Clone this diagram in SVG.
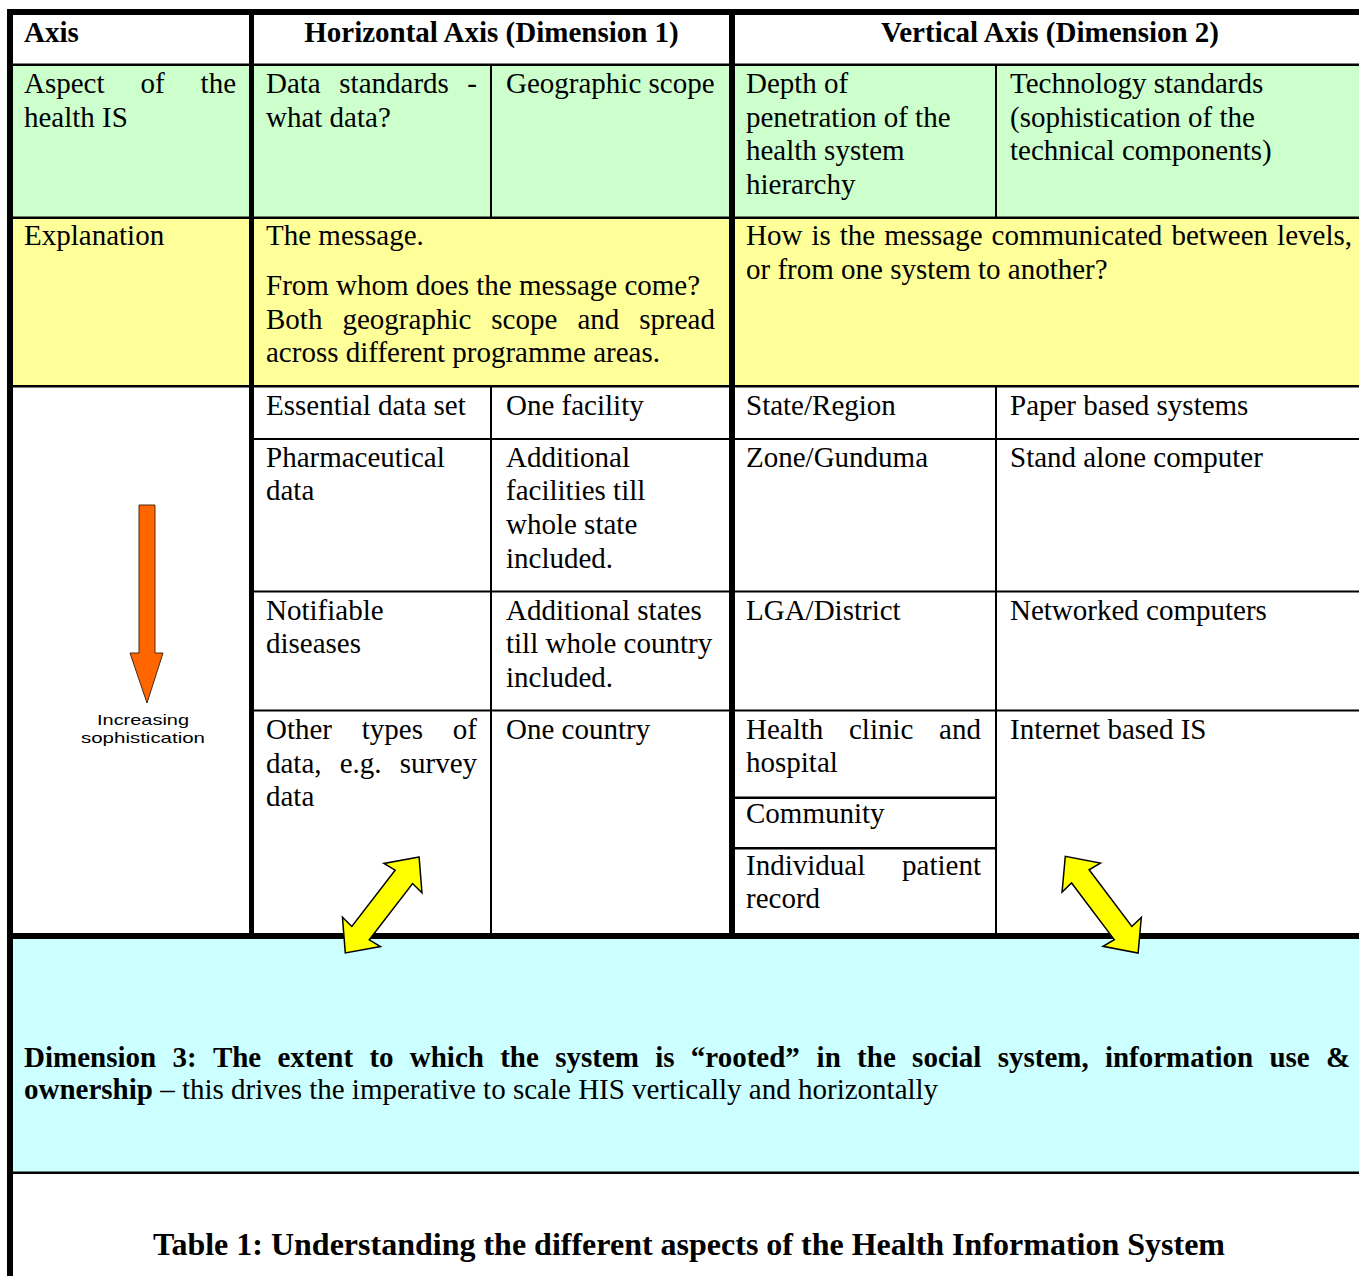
<svg xmlns="http://www.w3.org/2000/svg" width="1359" height="1276" viewBox="0 0 1359 1276">
<style>
  text { font-family: "Liberation Serif", "Times New Roman", serif; font-size: 29px; fill: #000; }
  .b { font-weight: bold; }
  .lbl { font-family: "Liberation Sans", Arial, sans-serif; font-size: 15px; }
  .rule { fill: #000; }
  .dbl { fill: #FFFF00; stroke: #000; stroke-width: 1.5; stroke-linejoin: miter; }
  .down { fill: #FF6600; stroke: #4a2a10; stroke-width: 1; }
</style>
<defs>
  <!-- two-headed block arrow, centred on the origin, pointing along x -->
  <polygon id="dblArrow" points="60.5,0 34,-24 35.5,-11 -35.5,-11 -34,-24 -60.5,0 -34,24 -35.5,11 35.5,11 34,24"/>
</defs>

<rect width="1359" height="1276" fill="#fff"/>

<!-- shaded row bands -->
<g id="bands">
  <rect x="13" y="66" width="1346" height="151" fill="#CCFFCC"/>
  <rect x="13" y="218" width="1346" height="168" fill="#FFFF99"/>
  <rect x="13" y="938" width="1346" height="235" fill="#CCFFFF"/>
</g>

<!-- table rules -->
<g id="grid" class="rule">
  <rect x="7" y="9" width="1352" height="6"/>
  <rect x="7" y="9" width="6" height="1267"/>
  <rect x="249" y="15" width="5" height="919"/>
  <rect x="729" y="15" width="6" height="919"/>
  <rect x="13" y="63.5" width="1346" height="2.5"/>
  <rect x="13" y="216.5" width="1346" height="2.5"/>
  <rect x="13" y="385" width="1346" height="2.5"/>
  <rect x="254" y="438" width="1105" height="2"/>
  <rect x="254" y="590.5" width="1105" height="2"/>
  <rect x="254" y="709.5" width="1105" height="2"/>
  <rect x="735" y="796.5" width="260" height="2.5"/>
  <rect x="735" y="847" width="260" height="2.5"/>
  <rect x="490" y="66" width="2" height="151"/>
  <rect x="490" y="387" width="2" height="547"/>
  <rect x="995" y="66" width="2" height="151"/>
  <rect x="995" y="387" width="2" height="547"/>
  <rect x="7" y="933" width="1352" height="6"/>
  <rect x="13" y="1171.5" width="1346" height="2.5"/>
</g>

<!-- header row -->
<g id="header">
  <text class="b" x="24" y="42">Axis</text>
  <text class="b" x="491.5" y="42" text-anchor="middle">Horizontal Axis (Dimension 1)</text>
  <text class="b" x="1050" y="42" text-anchor="middle">Vertical Axis (Dimension 2)</text>
</g>

<!-- aspect row -->
<g id="aspect">
  <text y="93"><tspan x="24">Aspect</tspan><tspan x="140.5">of</tspan><tspan x="200.6">the</tspan></text>
  <text x="24" y="127">health IS</text>
  <text y="93"><tspan x="266">Data</tspan><tspan x="339.3">standards</tspan><tspan x="467.3">-</tspan></text>
  <text x="266" y="127">what data?</text>
  <text x="506" y="93">Geographic scope</text>
  <text x="746" y="93">Depth of</text>
  <text x="746" y="126.5">penetration of the</text>
  <text x="746" y="160">health system</text>
  <text x="746" y="193.5">hierarchy</text>
  <text x="1010" y="93">Technology standards</text>
  <text x="1010" y="126.5">(sophistication of the</text>
  <text x="1010" y="160">technical components)</text>
</g>

<!-- explanation row -->
<g id="explanation">
  <text x="24" y="245">Explanation</text>
  <text x="266" y="245">The message.</text>
  <text x="266" y="295">From whom does the message come?</text>
  <text y="329"><tspan x="266">Both</tspan><tspan x="342.5">geographic</tspan><tspan x="491.3">scope</tspan><tspan x="577.4">and</tspan><tspan x="639.3">spread</tspan></text>
  <text x="266" y="362">across different programme areas.</text>
  <text y="245"><tspan x="746">How</tspan><tspan x="811.5">is</tspan><tspan x="839.8">the</tspan><tspan x="884.3">message</tspan><tspan x="991.6">communicated</tspan><tspan x="1171.5">between</tspan><tspan x="1277.1">levels,</tspan></text>
  <text x="746" y="279">or from one system to another?</text>
</g>

<!-- levels, rows 1 to 4 -->
<g id="row1">
  <text x="266" y="415">Essential data set</text>
  <text x="506" y="415">One facility</text>
  <text x="746" y="415">State/Region</text>
  <text x="1010" y="415">Paper based systems</text>
</g>
<g id="row2">
  <text x="266" y="467">Pharmaceutical</text>
  <text x="266" y="500">data</text>
  <text x="506" y="467">Additional</text>
  <text x="506" y="500">facilities till</text>
  <text x="506" y="534">whole state</text>
  <text x="506" y="568">included.</text>
  <text x="746" y="467">Zone/Gunduma</text>
  <text x="1010" y="467">Stand alone computer</text>
</g>
<g id="row3">
  <text x="266" y="620">Notifiable</text>
  <text x="266" y="653">diseases</text>
  <text x="506" y="620">Additional states</text>
  <text x="506" y="653">till whole country</text>
  <text x="506" y="687">included.</text>
  <text x="746" y="620">LGA/District</text>
  <text x="1010" y="620">Networked computers</text>
</g>
<g id="row4">
  <text y="739"><tspan x="266">Other</tspan><tspan x="361.8">types</tspan><tspan x="452.8">of</tspan></text>
  <text y="773"><tspan x="266">data,</tspan><tspan x="339.7">e.g.</tspan><tspan x="399.7">survey</tspan></text>
  <text x="266" y="806">data</text>
  <text x="506" y="739">One country</text>
  <text y="739"><tspan x="746">Health</tspan><tspan x="849">clinic</tspan><tspan x="939.1">and</tspan></text>
  <text x="746" y="772">hospital</text>
  <text x="746" y="823">Community</text>
  <text y="875"><tspan x="746">Individual</tspan><tspan x="902.1">patient</tspan></text>
  <text x="746" y="908">record</text>
  <text x="1010" y="739">Internet based IS</text>
</g>

<!-- sophistication indicator -->
<g id="sophistication">
  <polygon class="down" points="139,505 155,505 155,653 163,653 147,703 130,653 139,653"/>
  <text class="lbl" x="143" y="725" text-anchor="middle" textLength="92" lengthAdjust="spacingAndGlyphs">Increasing</text>
  <text class="lbl" x="143" y="743" text-anchor="middle" textLength="124" lengthAdjust="spacingAndGlyphs">sophistication</text>
</g>

<!-- dimension 3 band -->
<g id="dimension3">
  <text class="b" y="1066.5"><tspan x="24">Dimension</tspan><tspan x="172.4">3:</tspan><tspan x="212.9">The</tspan><tspan x="277.4">extent</tspan><tspan x="369.4">to</tspan><tspan x="409.8">which</tspan><tspan x="500.2">the</tspan><tspan x="555.2">system</tspan><tspan x="655.2">is</tspan><tspan x="690.8">“rooted”</tspan><tspan x="816.6">in</tspan><tspan x="857.1">the</tspan><tspan x="912.1">social</tspan><tspan x="997.7">system,</tspan><tspan x="1104.9">information</tspan><tspan x="1269.4">use</tspan><tspan x="1326">&amp;</tspan></text>
  <text x="24" y="1098.5"><tspan class="b">ownership</tspan> – this drives the imperative to scale HIS vertically and horizontally</text>
</g>

<!-- caption -->
<g id="caption">
  <text class="b" x="689" y="1255" text-anchor="middle" style="font-size:32px">Table 1: Understanding the different aspects of the Health Information System</text>
</g>

<!-- scaling arrows linking the dimensions -->
<g id="connectors">
  <use href="#dblArrow" class="dbl" transform="translate(382.2,905) rotate(-52.4)"/>
  <use href="#dblArrow" class="dbl" transform="translate(1101.7,904.7) rotate(53)"/>
</g>
</svg>
